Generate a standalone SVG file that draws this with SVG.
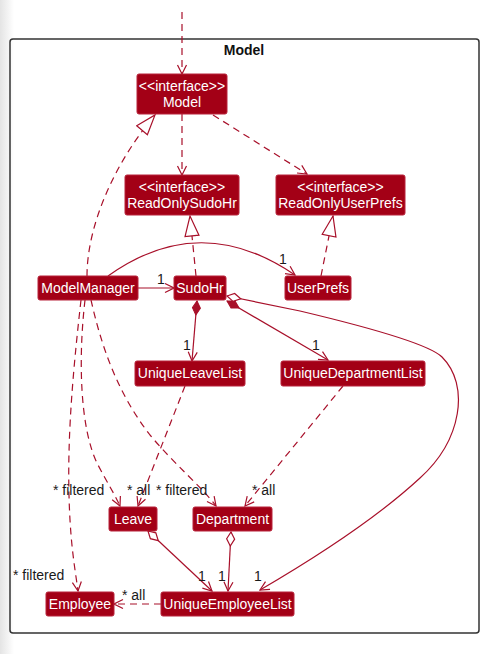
<svg xmlns="http://www.w3.org/2000/svg" width="495" height="654" viewBox="0 0 495 654">
<style>
.box{fill:#A30016;stroke:#B8233A;stroke-width:1}
.nt{font-family:"Liberation Sans",Arial,sans-serif;font-size:14px;fill:#fff;text-anchor:middle}
.lbl{font-family:"Liberation Sans",Arial,sans-serif;font-size:14px;fill:#1a1a1a}
.e{fill:none;stroke:#A8102A;stroke-width:1.2}
.d{stroke-dasharray:7,5}
.title{font-family:"Liberation Sans",Arial,sans-serif;font-size:14px;font-weight:bold;fill:#111;text-anchor:middle}
</style>
<defs>
<linearGradient id="shade" x1="0" y1="0" x2="1" y2="0">
<stop offset="0" stop-color="#e4e4e4"/>
<stop offset="1" stop-color="#ffffff"/>
</linearGradient>
<marker id="arr" markerUnits="userSpaceOnUse" markerWidth="12" markerHeight="12" viewBox="0 0 12 12" refX="11" refY="6" orient="auto">
<path d="M2,1.5 L11,6 L2,10.5" fill="none" stroke="#A8102A" stroke-width="1.2"/>
</marker>
<marker id="tri" markerUnits="userSpaceOnUse" markerWidth="22" markerHeight="16" viewBox="0 0 22 16" refX="21" refY="8" orient="auto">
<path d="M1,1 L21,8 L1,15 Z" fill="#fff" stroke="#A8102A" stroke-width="1.2"/>
</marker>
<marker id="dmf" markerUnits="userSpaceOnUse" markerWidth="16" markerHeight="10" viewBox="0 0 16 10" refX="1" refY="5" orient="auto">
<path d="M1,5 L8,1 L15,5 L8,9 Z" fill="#A8102A" stroke="#A8102A" stroke-width="1"/>
</marker>
<marker id="dmo" markerUnits="userSpaceOnUse" markerWidth="16" markerHeight="10" viewBox="0 0 16 10" refX="1" refY="5" orient="auto">
<path d="M1,5 L8,1 L15,5 L8,9 Z" fill="#fff" stroke="#A8102A" stroke-width="1.2"/>
</marker>
</defs>
<rect x="0" y="0" width="495" height="654" fill="#fff"/>
<rect x="0" y="0" width="14" height="654" fill="url(#shade)"/>
<g id="package-Model">
<rect x="10" y="39" width="469" height="594" rx="3" fill="none" stroke="#333" stroke-width="1.5"/>
<text class="title" x="244" y="55">Model</text>
</g>
<g id="connectors">
<path class="e d" d="M182,12 L182,74" marker-end="url(#arr)"/>
<path class="e d" d="M182,114 L182,175" marker-end="url(#arr)"/>
<path class="e d" d="M213,115 L307,174" marker-end="url(#arr)"/>
<path class="e d" d="M87,276 C 87,225 115,162 155,115" marker-end="url(#tri)"/>
<path class="e d" d="M196,276 L190,216" marker-end="url(#tri)"/>
<path class="e d" d="M321,276 L333,216" marker-end="url(#tri)"/>
<path class="e" d="M108,276 Q 200,210 295,275" marker-end="url(#arr)"/>
<path class="e" d="M138,288 L174,288" marker-end="url(#arr)"/>
<path class="e" d="M197,301 L192,361" marker-start="url(#dmf)" marker-end="url(#arr)"/>
<path class="e" d="M227,301 L328,360" marker-start="url(#dmf)" marker-end="url(#arr)"/>
<path class="e" d="M227,296 L300,311 C 380,330 430,345 442,357 C 470,385 462,440 420,478 C 380,515 320,555 260,590" marker-start="url(#dmo)" marker-end="url(#arr)"/>
<path class="e d" d="M185,386 L138,506" marker-end="url(#arr)"/>
<path class="e d" d="M85,300 C 78,360 80,430 98,465 C 107,482 115,495 120,506" marker-end="url(#arr)"/>
<path class="e d" d="M91,300 C 100,340 115,390 150,435 C 175,465 200,485 216,506" marker-end="url(#arr)"/>
<path class="e d" d="M81,300 C 72,380 66,450 70,520 C 72,555 76,575 78,591" marker-end="url(#arr)"/>
<path class="e d" d="M343,386 L245,506" marker-end="url(#arr)"/>
<path class="e" d="M148,531 L212,591" marker-start="url(#dmo)" marker-end="url(#arr)"/>
<path class="e" d="M231,532 L228,591" marker-start="url(#dmo)" marker-end="url(#arr)"/>
<path class="e d" d="M161,604 L114,604" marker-end="url(#arr)"/>
<text class="lbl" x="157" y="284">1</text>
<text class="lbl" x="279" y="264">1</text>
<text class="lbl" x="183" y="350">1</text>
<text class="lbl" x="312" y="350">1</text>
<text class="lbl" x="198" y="581">1</text>
<text class="lbl" x="218" y="581">1</text>
<text class="lbl" x="254" y="581">1</text>
<text class="lbl" x="53" y="495">* filtered</text>
<text class="lbl" x="127" y="495">* all</text>
<text class="lbl" x="156" y="495">* filtered</text>
<text class="lbl" x="252" y="495">* all</text>
<text class="lbl" x="13" y="580">* filtered</text>
<text class="lbl" x="122" y="600">* all</text>
</g>
<g id="Model">
<rect class="box" x="137" y="74" width="90" height="40" rx="2"/>
<text class="nt" x="182" y="91">&lt;&lt;interface&gt;&gt;</text>
<text class="nt" x="182" y="107">Model</text>
</g>
<g id="ReadOnlySudoHr">
<rect class="box" x="125" y="175" width="114" height="40" rx="2"/>
<text class="nt" x="182" y="192">&lt;&lt;interface&gt;&gt;</text>
<text class="nt" x="182" y="208">ReadOnlySudoHr</text>
</g>
<g id="ReadOnlyUserPrefs">
<rect class="box" x="276" y="175" width="129" height="40" rx="2"/>
<text class="nt" x="340.5" y="192">&lt;&lt;interface&gt;&gt;</text>
<text class="nt" x="340.5" y="208">ReadOnlyUserPrefs</text>
</g>
<g id="ModelManager">
<rect class="box" x="38" y="276" width="100" height="24" rx="2"/>
<text class="nt" x="88" y="293">ModelManager</text>
</g>
<g id="SudoHr">
<rect class="box" x="174" y="276" width="52" height="24" rx="2"/>
<text class="nt" x="200" y="293">SudoHr</text>
</g>
<g id="UserPrefs">
<rect class="box" x="285" y="276" width="66" height="24" rx="2"/>
<text class="nt" x="318" y="293">UserPrefs</text>
</g>
<g id="UniqueLeaveList">
<rect class="box" x="135" y="361" width="110" height="25" rx="2"/>
<text class="nt" x="190" y="378">UniqueLeaveList</text>
</g>
<g id="UniqueDepartmentList">
<rect class="box" x="281" y="361" width="144" height="25" rx="2"/>
<text class="nt" x="353" y="378">UniqueDepartmentList</text>
</g>
<g id="Leave">
<rect class="box" x="109" y="507" width="48" height="24" rx="2"/>
<text class="nt" x="133" y="524">Leave</text>
</g>
<g id="Department">
<rect class="box" x="193" y="507" width="79" height="24" rx="2"/>
<text class="nt" x="232.5" y="524">Department</text>
</g>
<g id="Employee">
<rect class="box" x="46" y="592" width="68" height="24" rx="2"/>
<text class="nt" x="80" y="609">Employee</text>
</g>
<g id="UniqueEmployeeList">
<rect class="box" x="161" y="592" width="133" height="24" rx="2"/>
<text class="nt" x="227.5" y="609">UniqueEmployeeList</text>
</g>
</svg>
